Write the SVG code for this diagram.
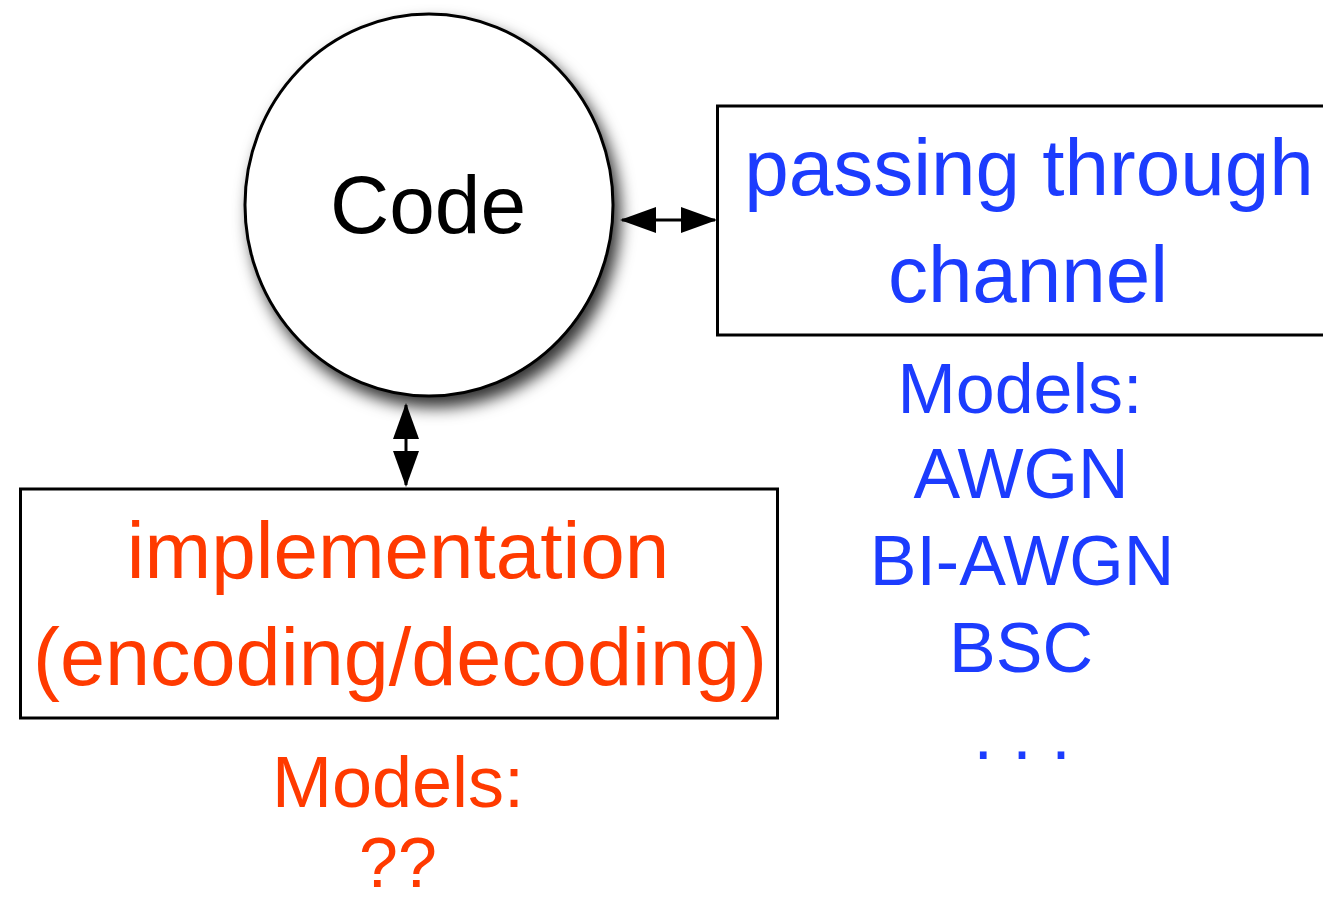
<svg xmlns="http://www.w3.org/2000/svg" width="1323" height="903" viewBox="0 0 1323 903">
<style>
.box{fill:#fff;stroke:#000;stroke-width:3}
.t{font-family:"Liberation Sans",Arial,sans-serif;text-anchor:middle}
.blue{fill:#1c3cfe}
.red{fill:#ff3a00}
.conn{stroke:#000;stroke-width:3;fill:none}
</style>
<defs>
<filter id="sh" x="-20%" y="-20%" width="150%" height="150%">
<feDropShadow dx="6" dy="10" stdDeviation="8" flood-color="#000" flood-opacity="0.8"/>
</filter>
<marker id="ah" viewBox="0 0 36 26" refX="34" refY="13" markerWidth="36" markerHeight="26" markerUnits="userSpaceOnUse" orient="auto-start-reverse">
<path d="M0,0 L36,13 L0,26 Z" fill="#000"/>
</marker>
</defs>
<g id="code">
<ellipse cx="429" cy="205" rx="184" ry="191" fill="#fff" stroke="#000" stroke-width="3" filter="url(#sh)"/>
<text class="t" x="428" y="233" font-size="82" fill="#000">Code</text>
</g>
<g id="channel">
<rect class="box" x="717.5" y="106" width="620" height="229"/>
<text class="t blue" x="1029" y="195" font-size="80">passing through</text>
<text class="t blue" x="1028" y="302" font-size="80">channel</text>
</g>
<g id="channel-models">
<text class="t blue" x="1020" y="413" font-size="70">Models:</text>
<text class="t blue" x="1021" y="498" font-size="70">AWGN</text>
<text class="t blue" x="1022" y="585" font-size="70">BI-AWGN</text>
<text class="t blue" x="1021" y="672" font-size="70">BSC</text>
<text class="t blue" x="1022" y="759" font-size="70">. . .</text>
</g>
<g id="implementation">
<rect class="box" x="20.5" y="489" width="757" height="229"/>
<text class="t red" x="398" y="578" font-size="80">implementation</text>
<text class="t red" x="400" y="685" font-size="81">(encoding/decoding)</text>
</g>
<g id="impl-models">
<text class="t red" x="398" y="807" font-size="72">Models:</text>
<text class="t red" x="398" y="887" font-size="70">??</text>
</g>
<g id="connectors">
<line class="conn" x1="622" y1="220" x2="715" y2="220" marker-start="url(#ah)" marker-end="url(#ah)"/>
<line class="conn" x1="406" y1="405" x2="406" y2="485" marker-start="url(#ah)" marker-end="url(#ah)"/>
</g>
</svg>
